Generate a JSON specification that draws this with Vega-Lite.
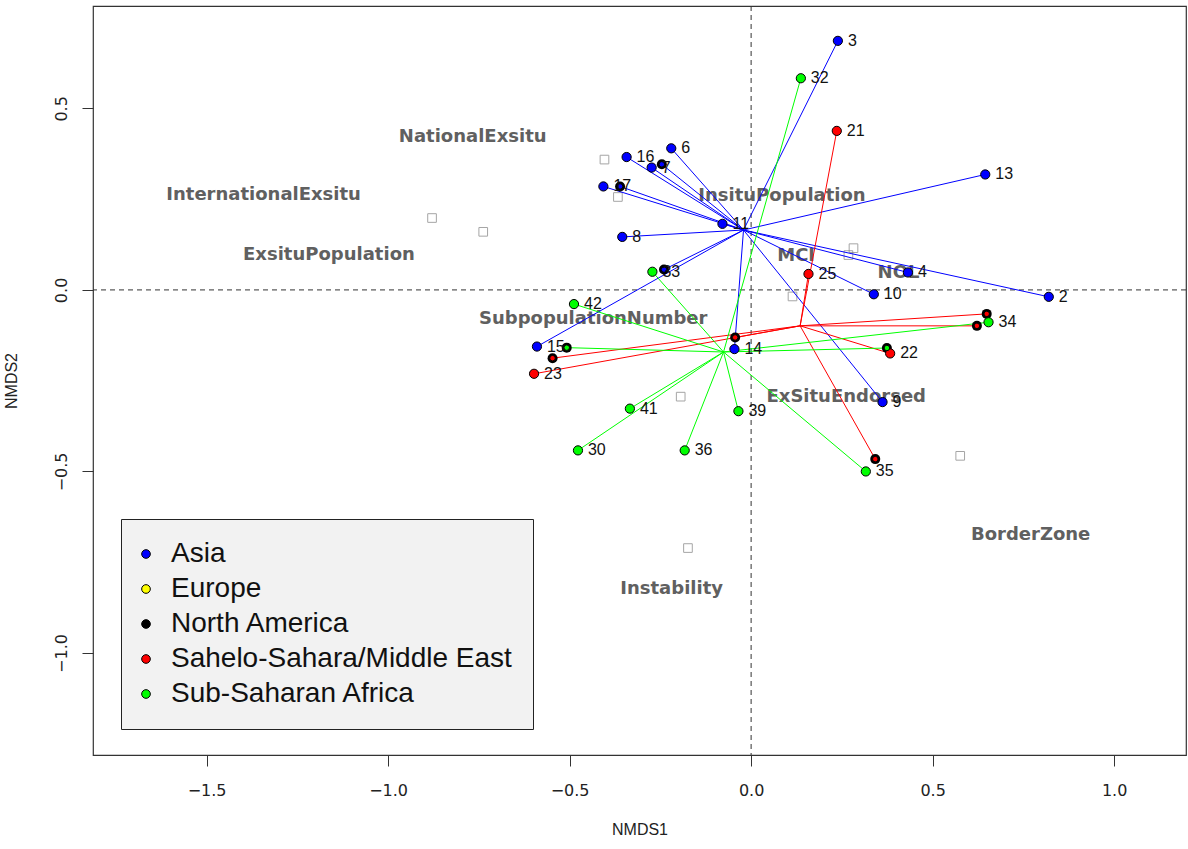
{
  "$schema": "https://vega.github.io/schema/vega-lite/v6.json",
  "autosize": "none",
  "width": 1093,
  "height": 749,
  "padding": {"left": 93, "top": 6, "right": 2, "bottom": 94},
  "background": "white",
  "config": {
    "view": {"stroke": "#333333", "strokeWidth": 1.2},
    "font": "Liberation Sans",
    "axis": {
      "grid": false, "domain": false, "tickColor": "#333333", "tickSize": 11, "tickWidth": 1,
      "labelFont": "DejaVu Sans", "labelFontSize": 16, "labelColor": "#222222",
      "titleFont": "Liberation Sans", "titleFontSize": 16, "titleFontWeight": "normal", "titleColor": "#222222"
    }
  },
  "datasets": {
    "pts": [
      {"id": "3", "x": 0.239, "y": 0.686, "region": "Asia", "also": ""},
      {"id": "6", "x": -0.220, "y": 0.390, "region": "Asia", "also": ""},
      {"id": "16", "x": -0.343, "y": 0.366, "region": "Asia", "also": ""},
      {"id": "7", "x": -0.274, "y": 0.337, "region": "Asia", "also": ""},
      {"id": "", "x": -0.246, "y": 0.346, "region": "Asia", "also": "North America"},
      {"id": "17", "x": -0.407, "y": 0.285, "region": "Asia", "also": ""},
      {"id": "", "x": -0.361, "y": 0.285, "region": "Asia", "also": "North America"},
      {"id": "13", "x": 0.645, "y": 0.318, "region": "Asia", "also": ""},
      {"id": "11", "x": -0.079, "y": 0.182, "region": "Asia", "also": ""},
      {"id": "8", "x": -0.355, "y": 0.146, "region": "Asia", "also": ""},
      {"id": "", "x": -0.240, "y": 0.056, "region": "Asia", "also": "North America"},
      {"id": "4", "x": 0.432, "y": 0.048, "region": "Asia", "also": ""},
      {"id": "10", "x": 0.338, "y": -0.012, "region": "Asia", "also": ""},
      {"id": "2", "x": 0.820, "y": -0.019, "region": "Asia", "also": ""},
      {"id": "15", "x": -0.590, "y": -0.156, "region": "Asia", "also": ""},
      {"id": "14", "x": -0.046, "y": -0.163, "region": "Asia", "also": ""},
      {"id": "9", "x": 0.362, "y": -0.309, "region": "Asia", "also": ""},
      {"id": "21", "x": 0.236, "y": 0.438, "region": "Sahelo-Sahara/Middle East", "also": ""},
      {"id": "25", "x": 0.158, "y": 0.044, "region": "Sahelo-Sahara/Middle East", "also": ""},
      {"id": "", "x": 0.649, "y": -0.066, "region": "Sahelo-Sahara/Middle East", "also": "North America"},
      {"id": "", "x": 0.622, "y": -0.099, "region": "Sahelo-Sahara/Middle East", "also": "North America"},
      {"id": "", "x": -0.547, "y": -0.188, "region": "Sahelo-Sahara/Middle East", "also": "North America"},
      {"id": "23", "x": -0.598, "y": -0.231, "region": "Sahelo-Sahara/Middle East", "also": ""},
      {"id": "", "x": -0.044, "y": -0.131, "region": "Sahelo-Sahara/Middle East", "also": "North America"},
      {"id": "22", "x": 0.383, "y": -0.175, "region": "Sahelo-Sahara/Middle East", "also": ""},
      {"id": "", "x": 0.342, "y": -0.466, "region": "Sahelo-Sahara/Middle East", "also": "North America"},
      {"id": "32", "x": 0.137, "y": 0.583, "region": "Sub-Saharan Africa", "also": ""},
      {"id": "33", "x": -0.272, "y": 0.050, "region": "Sub-Saharan Africa", "also": ""},
      {"id": "42", "x": -0.488, "y": -0.039, "region": "Sub-Saharan Africa", "also": ""},
      {"id": "34", "x": 0.654, "y": -0.089, "region": "Sub-Saharan Africa", "also": ""},
      {"id": "", "x": -0.508, "y": -0.159, "region": "Sub-Saharan Africa", "also": "North America"},
      {"id": "", "x": 0.374, "y": -0.160, "region": "Sub-Saharan Africa", "also": "North America"},
      {"id": "41", "x": -0.334, "y": -0.327, "region": "Sub-Saharan Africa", "also": ""},
      {"id": "39", "x": -0.035, "y": -0.334, "region": "Sub-Saharan Africa", "also": ""},
      {"id": "30", "x": -0.477, "y": -0.442, "region": "Sub-Saharan Africa", "also": ""},
      {"id": "36", "x": -0.183, "y": -0.442, "region": "Sub-Saharan Africa", "also": ""},
      {"id": "35", "x": 0.316, "y": -0.500, "region": "Sub-Saharan Africa", "also": ""}
    ],
    "cent": [
      {"region": "Asia", "cx": -0.021, "cy": 0.165},
      {"region": "Sahelo-Sahara/Middle East", "cx": 0.135, "cy": -0.099},
      {"region": "Sub-Saharan Africa", "cx": -0.076, "cy": -0.171}
    ],
    "sq": [
      {"x": -0.879, "y": 0.198}, {"x": -0.738, "y": 0.160}, {"x": -0.404, "y": 0.359},
      {"x": -0.367, "y": 0.256}, {"x": 0.282, "y": 0.115}, {"x": 0.268, "y": 0.096},
      {"x": 0.114, "y": -0.018}, {"x": -0.194, "y": -0.294}, {"x": 0.576, "y": -0.457},
      {"x": -0.174, "y": -0.711}
    ],
    "vars": [
      {"name": "NationalExsitu", "x": -0.767, "y": 0.421},
      {"name": "InternationalExsitu", "x": -1.343, "y": 0.262},
      {"name": "ExsituPopulation", "x": -1.163, "y": 0.096},
      {"name": "InsituPopulation", "x": 0.085, "y": 0.259},
      {"name": "MCI", "x": 0.124, "y": 0.094},
      {"name": "NOL", "x": 0.406, "y": 0.047},
      {"name": "SubpopulationNumber", "x": -0.435, "y": -0.080},
      {"name": "ExSituEndorsed", "x": 0.262, "y": -0.295},
      {"name": "BorderZone", "x": 0.770, "y": -0.675},
      {"name": "Instability", "x": -0.219, "y": -0.824}
    ]
  },
  "layer": [
    {
      "data": {"values": [{}]},
      "mark": {"type": "rule", "color": "#333333", "strokeWidth": 1, "strokeDash": [5, 4]},
      "encoding": {
        "x": {"datum": 0, "type": "quantitative", "scale": {"domain": [-1.813, 1.198], "nice": false, "zero": false},
              "axis": {"values": [-1.5, -1, -0.5, 0, 0.5, 1], "format": ".1f", "title": "NMDS1", "labelPadding": 16, "titlePadding": 23}}
      }
    },
    {
      "data": {"values": [{}]},
      "mark": {"type": "rule", "color": "#333333", "strokeWidth": 1, "strokeDash": [5, 4]},
      "encoding": {
        "y": {"datum": 0, "type": "quantitative", "scale": {"domain": [-1.281, 0.782], "nice": false, "zero": false},
              "axis": {"values": [-1, -0.5, 0, 0.5], "format": ".1f", "title": "NMDS2", "labelAngle": 270, "labelAlign": "center", "labelBaseline": "bottom", "labelPadding": 13, "titlePadding": 34}}
      }
    },
    {
      "data": {"name": "sq"},
      "mark": {"type": "point", "shape": "square", "filled": false, "size": 75, "stroke": "#808080", "strokeWidth": 1},
      "encoding": {
        "x": {"field": "x", "type": "quantitative", "scale": {"domain": [-1.813, 1.198], "nice": false, "zero": false}, "title": "NMDS1"},
        "y": {"field": "y", "type": "quantitative", "scale": {"domain": [-1.281, 0.782], "nice": false, "zero": false}, "title": "NMDS2"}
      }
    },
    {
      "data": {"name": "vars"},
      "mark": {"type": "text", "align": "center", "baseline": "middle", "fontSize": 18, "fontWeight": "bold", "font": "DejaVu Sans", "color": "#606060"},
      "encoding": {
        "x": {"field": "x", "type": "quantitative", "scale": {"domain": [-1.813, 1.198], "nice": false, "zero": false}, "title": "NMDS1"},
        "y": {"field": "y", "type": "quantitative", "scale": {"domain": [-1.281, 0.782], "nice": false, "zero": false}, "title": "NMDS2"},
        "text": {"field": "name"}
      }
    },
    {
      "data": {"name": "pts"},
      "transform": [
        {"lookup": "region", "from": {"data": {"name": "cent"}, "key": "region", "fields": ["cx", "cy"]}}
      ],
      "mark": {"type": "rule", "strokeWidth": 1},
      "encoding": {
        "x": {"field": "cx", "type": "quantitative", "scale": {"domain": [-1.813, 1.198], "nice": false, "zero": false}, "title": "NMDS1"},
        "y": {"field": "cy", "type": "quantitative", "scale": {"domain": [-1.281, 0.782], "nice": false, "zero": false}, "title": "NMDS2"},
        "x2": {"field": "x"},
        "y2": {"field": "y"},
        "stroke": {"field": "region", "type": "nominal", "legend": null,
                   "scale": {"domain": ["Asia", "Sahelo-Sahara/Middle East", "Sub-Saharan Africa"],
                             "range": ["#0000FF", "#FF0000", "#00FF00"]}}
      }
    },
    {
      "data": {"name": "pts"},
      "transform": [{"filter": "datum.also == 'North America'"}],
      "mark": {"type": "point", "shape": "circle", "filled": true, "size": 100, "color": "#000000", "opacity": 1},
      "encoding": {
        "x": {"field": "x", "type": "quantitative", "scale": {"domain": [-1.813, 1.198], "nice": false, "zero": false}, "title": "NMDS1"},
        "y": {"field": "y", "type": "quantitative", "scale": {"domain": [-1.281, 0.782], "nice": false, "zero": false}, "title": "NMDS2"}
      }
    },
    {
      "data": {"name": "pts"},
      "mark": {"type": "point", "shape": "circle", "filled": true, "stroke": "#000000", "strokeWidth": 1, "opacity": 1},
      "encoding": {
        "x": {"field": "x", "type": "quantitative", "scale": {"domain": [-1.813, 1.198], "nice": false, "zero": false}, "title": "NMDS1"},
        "y": {"field": "y", "type": "quantitative", "scale": {"domain": [-1.281, 0.782], "nice": false, "zero": false}, "title": "NMDS2"},
        "fill": {"field": "region", "type": "nominal",
                 "scale": {"domain": ["Asia", "Europe", "North America", "Sahelo-Sahara/Middle East", "Sub-Saharan Africa"],
                           "range": ["#0000FF", "#FFFF00", "#000000", "#FF0000", "#00FF00"]},
                 "legend": {"orient": "none", "legendX": 28, "legendY": 513, "title": null,
                            "fillColor": "#f2f2f2", "strokeColor": "#222222", "padding": 21,
                            "labelFont": "Liberation Sans", "labelFontSize": 28, "labelColor": "#111111", "labelLimit": 600,
                            "symbolType": "circle", "symbolSize": 75, "symbolStrokeColor": "#000000", "symbolStrokeWidth": 1,
                            "symbolOffset": -10, "labelOffset": 11, "rowPadding": 7}},
        "size": {"condition": {"test": "datum.also == 'North America'", "value": 30}, "value": 85}
      }
    },
    {
      "data": {"name": "pts"},
      "transform": [{"filter": "datum.id != ''"}],
      "mark": {"type": "text", "align": "left", "baseline": "middle", "dx": 10, "fontSize": 16, "font": "Liberation Sans", "color": "#111111"},
      "encoding": {
        "x": {"field": "x", "type": "quantitative", "scale": {"domain": [-1.813, 1.198], "nice": false, "zero": false}, "title": "NMDS1"},
        "y": {"field": "y", "type": "quantitative", "scale": {"domain": [-1.281, 0.782], "nice": false, "zero": false}, "title": "NMDS2"},
        "text": {"field": "id"}
      }
    }
  ]
}
